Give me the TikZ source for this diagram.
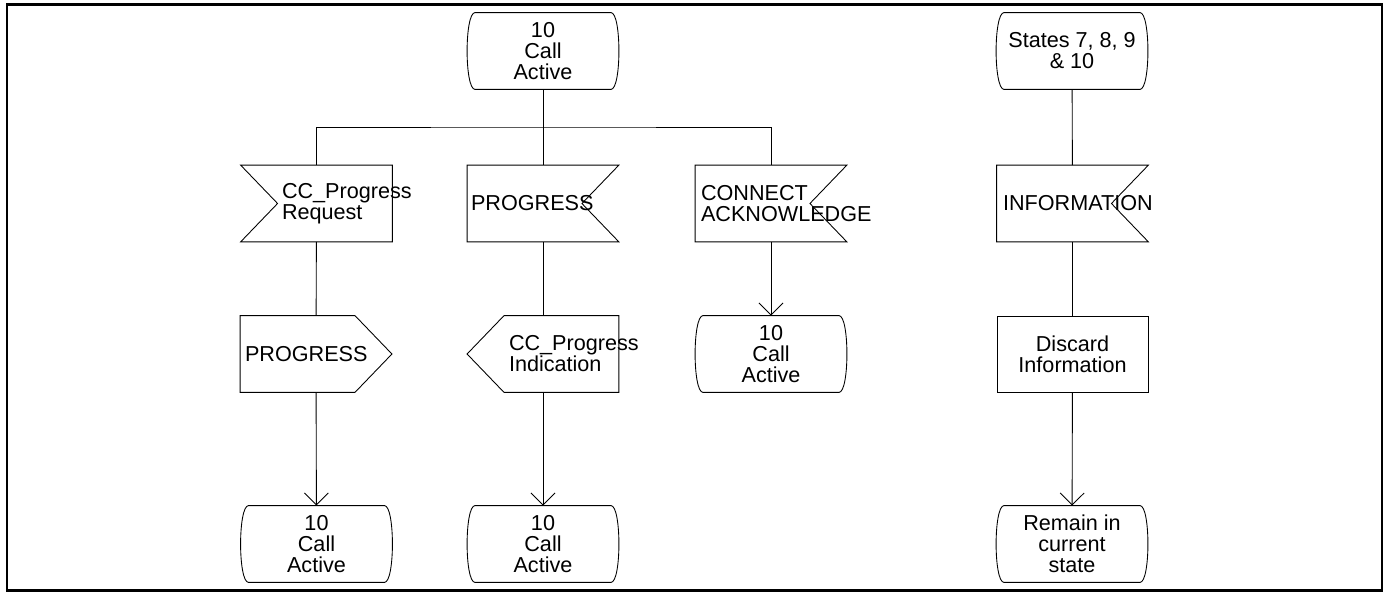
\documentclass[tikz,border=0pt]{standalone}
\usepackage{fontspec}
\setmainfont{Liberation Sans}
\usetikzlibrary{arrows.meta}
\newcommand{\sdlfont}{\fontsize{12.3pt}{12pt}\selectfont}
\tikzset{
  sdl/.style={rectangle, minimum width=3.02cm, minimum height=1.52cm, inner sep=0pt, font=\sdlfont},
  state/.style={sdl, align=center, append after command={\pgfextra{
    \draw ([xshift=0.16cm]\tikzlastnode.north west) -- ([xshift=-0.16cm]\tikzlastnode.north east)
      .. controls ([xshift=0.053cm]\tikzlastnode.north east) and ([xshift=0.053cm]\tikzlastnode.south east) .. ([xshift=-0.16cm]\tikzlastnode.south east)
      -- ([xshift=0.16cm]\tikzlastnode.south west)
      .. controls ([xshift=-0.053cm]\tikzlastnode.south west) and ([xshift=-0.053cm]\tikzlastnode.north west) .. ([xshift=0.16cm]\tikzlastnode.north west);}}},
  inleft/.style={sdl, align=left, append after command={\pgfextra{
    \draw (\tikzlastnode.north west) -- (\tikzlastnode.north east) -- (\tikzlastnode.south east)
      -- (\tikzlastnode.south west) -- ([xshift=0.74cm]\tikzlastnode.west) -- cycle;}}},
  inright/.style={sdl, align=left, append after command={\pgfextra{
    \draw (\tikzlastnode.north west) -- (\tikzlastnode.north east) -- ([xshift=-0.74cm]\tikzlastnode.east)
      -- (\tikzlastnode.south east) -- (\tikzlastnode.south west) -- cycle;}}},
  outright/.style={sdl, align=left, append after command={\pgfextra{
    \draw (\tikzlastnode.north west) -- ([xshift=-0.74cm]\tikzlastnode.north east) -- (\tikzlastnode.east)
      -- ([xshift=-0.74cm]\tikzlastnode.south east) -- (\tikzlastnode.south west) -- cycle;}}},
  outleft/.style={sdl, align=left, append after command={\pgfextra{
    \draw (\tikzlastnode.north east) -- ([xshift=0.74cm]\tikzlastnode.north west) -- (\tikzlastnode.west)
      -- ([xshift=0.74cm]\tikzlastnode.south west) -- (\tikzlastnode.south east) -- cycle;}}},
  task/.style={sdl, draw, align=center},
  flow/.style={-{Straight Barb[length=0.24cm,width=0.48cm]}}
}
\begin{document}
\begin{tikzpicture}[x=0.02cm, y=-0.02cm, line width=0.5pt]
    \useasboundingbox (0,0) rectangle (1388,594);
    \draw[line width=1.2pt] (7,4.5) rectangle (1382,590.5);
    % States
    \node (active) [state] at (543,51) {10\\Call\\Active};
    \node (anystate) [state] at (1072,51) {States 7, 8, 9\\\& 10};
    % Inputs
    \node (ccreq) [inleft, text width=1.38cm] at (316.5,203.5) {CC\_Progress\\Request};
    \node (progin) [inright, text width=2.88cm] at (543,203.5) {PROGRESS};
    \node (connack) [inright, text width=2.8cm] at (771,203.5) {CONNECT\\ACKNOWLEDGE};
    \node (infoin) [inright, text width=2.78cm] at (1072.5,203.5) {INFORMATION};
    % Outputs and tasks
    \node (progout) [outright, text width=2.84cm] at (316,354) {PROGRESS};
    \node (ccind) [outleft, text width=1.36cm] at (543,354) {CC\_Progress\\Indication};
    \node (active3) [state] at (771,354) {10\\Call\\Active};
    \node (discard) [task] at (1072.5,354) {Discard\\Information};
    % Next states
    \node (active1) [state] at (316.5,544) {10\\Call\\Active};
    \node (active2) [state] at (543,544) {10\\Call\\Active};
    \node (remain) [state] at (1072,544) {Remain in\\current\\state};
    % Lines
    \coordinate (split) at (543,127);
    \draw (active) -- (progin);
    \draw (ccreq.north) |- (split) -| (connack.north);
    \draw (ccreq) -- (progout);
    \draw (progin) -- (ccind);
    \draw[flow] (connack) -- (active3);
    \draw[flow] (progout) -- (active1);
    \draw[flow] (ccind) -- (active2);
    \draw (anystate) -- (infoin);
    \draw (infoin) -- (discard);
    \draw[flow] (discard) -- (remain);
\end{tikzpicture}
\end{document}
